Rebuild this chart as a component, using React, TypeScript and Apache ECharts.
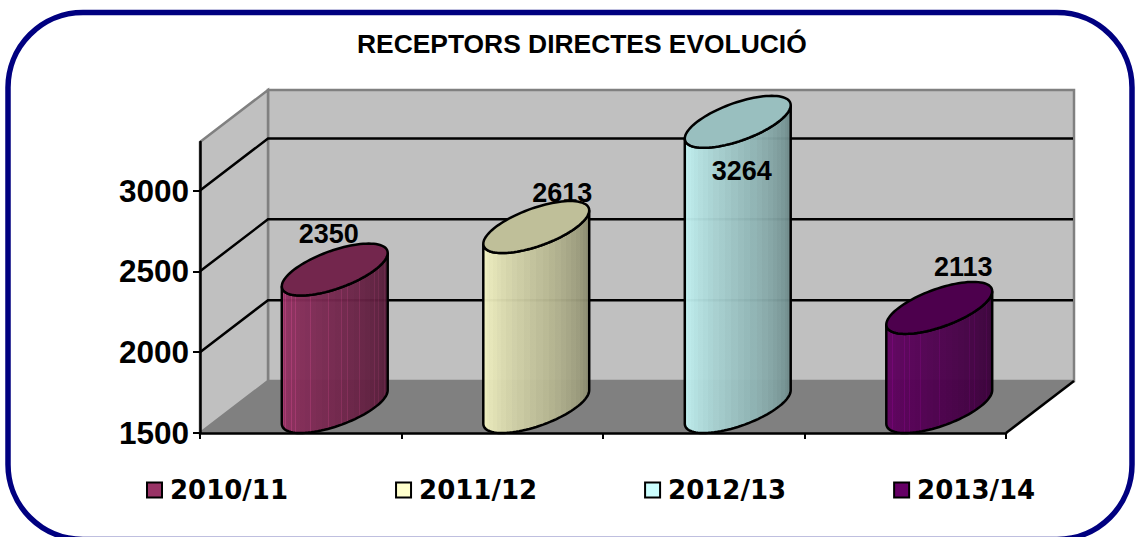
import React, { useEffect, useRef } from "react";
import * as echarts from "echarts";

const title = "RECEPTORS DIRECTES EVOLUCIÓ";
const seasons = ["2010/11", "2011/12", "2012/13", "2013/14"];
const receptors = [2350, 2613, 3264, 2113];
const baseColors = ["#993366", "#FFFFCC", "#CCFFFF", "#660066"];
const yTicks = [1500, 2000, 2500, 3000];

// 3D look: depth vector of the box and cylinder half axes (layout, not data)
const DEPTH_X = 68;
const DEPTH_Y = -52;
const HALF_W = 40.6;
const labelShift = [[-6, -36], [26, -34], [4, 49], [24, -41]];

function shade(hex: string, f: number, a = 1) {
  const n = parseInt(hex.slice(1), 16);
  const ch = (s: number) => Math.min(255, Math.round(((n >> s) & 255) * f));
  return `rgba(${ch(16)},${ch(8)},${ch(0)},${a})`;
}

function sideGradient(hex: string) {
  const N = 26;
  const stops: { offset: number; color: string }[] = [];
  const dark = hex === "#993366" || hex === "#660066";
  for (let i = 0; i < N; i++) {
    const u0 = (1 - Math.cos((Math.PI * i) / N)) / 2;
    const u1 = (1 - Math.cos((Math.PI * (i + 1)) / N)) / 2;
    const f = 0.98 - 0.48 * ((i + 0.5) / N) ** 1.1;
    const col = shade(hex, f, 0.96);
    const edge = dark ? shade(hex, f * 1.22, 0.96) : col;
    const w = Math.min(0.004, (u1 - u0) / 3);
    stops.push({ offset: u0, color: edge });
    stops.push({ offset: u0 + w, color: edge });
    stops.push({ offset: u0 + w, color: col });
    stops.push({ offset: u1, color: col });
  }
  return new echarts.graphic.LinearGradient(0, 0, 1, 0, stops);
}

function cylinderItem(seriesIndex: number) {
  return (params: any, api: any) => {
    const cat = api.value(0);
    const val = api.value(1);
    const hex = baseColors[seriesIndex];
    const base = api.coord([cat, 1500]);
    const top = api.coord([cat, val]);
    const cx = base[0] + DEPTH_X / 2;
    const cyB = base[1] + DEPTH_Y / 2;
    const cyT = top[1] + DEPTH_Y / 2;
    const pt = (t: number, cy: number) => [
      cx + HALF_W * Math.cos(t) + (DEPTH_X / 2) * Math.sin(t),
      cy + (DEPTH_Y / 2) * Math.sin(t),
    ];
    const t0 = Math.atan2(DEPTH_X / 2, HALF_W);
    const M = 48;
    const side: number[][] = [];
    for (let i = 0; i <= M; i++) side.push(pt(t0 + Math.PI + (Math.PI * i) / M, cyB));
    for (let i = 0; i <= M; i++) side.push(pt(t0 - (Math.PI * i) / M, cyT));
    const cap: number[][] = [];
    for (let i = 0; i < M * 2; i++) cap.push(pt((Math.PI * i) / M, cyT));
    const s = labelShift[seriesIndex];
    return {
      type: "group",
      children: [
        {
          type: "polygon",
          shape: { points: side },
          style: { fill: sideGradient(hex), stroke: "#000", lineWidth: 2.5 },
        },
        {
          type: "polygon",
          shape: { points: cap },
          style: { fill: shade(hex, 0.75), stroke: "#000", lineWidth: 2.5 },
        },
        {
          type: "text",
          x: cx + s[0],
          y: cyT + s[1],
          style: {
            text: String(val),
            fill: "#000",
            font: 'bold 27px "Liberation Sans"',
            align: "center",
            verticalAlign: "middle",
          },
        },
      ],
    };
  };
}

function wallsItem(params: any, api: any) {
  const { x, y, width, height } = params.coordSys;
  const r = x + width;
  const b = y + height;
  const dx = DEPTH_X;
  const dy = DEPTH_Y;
  const gray = "#808080";
  const kids: any[] = [
    {
      type: "polygon",
      shape: { points: [[x + dx, y + dy], [r + dx, y + dy], [r + dx, b + dy], [x + dx, b + dy]] },
      style: { fill: "#C0C0C0", stroke: gray, lineWidth: 2.5 },
    },
    {
      type: "polygon",
      shape: { points: [[x, y], [x + dx, y + dy], [x + dx, b + dy], [x, b]] },
      style: { fill: "#C0C0C0", stroke: gray, lineWidth: 2.5 },
    },
    {
      type: "polygon",
      shape: { points: [[x, b], [x + dx, b + dy], [r + dx, b + dy], [r, b]] },
      style: { fill: "#808080" },
    },
    {
      type: "line",
      shape: { x1: r, y1: b, x2: r + dx, y2: b + dy },
      style: { stroke: "#000", lineWidth: 2.5 },
    },
  ];
  yTicks.slice(1).forEach((t) => {
    const py = api.coord([0, t])[1];
    kids.push({
      type: "polyline",
      shape: { points: [[x, py], [x + dx, py + dy], [r + dx - 1, py + dy]] },
      style: { stroke: "#000", lineWidth: 2.5, fill: "none" },
    });
  });
  return { type: "group", children: kids };
}

export default function App() {
  const ref = useRef<HTMLDivElement>(null);
  useEffect(() => {
    document.body.style.margin = "0";
    const chart = echarts.init(ref.current!, undefined, { renderer: "svg" });
    chart.setOption({
      animation: false,
      backgroundColor: "#fff",
      title: {
        text: title,
        left: 352,
        top: 26,
        textStyle: { fontFamily: "Liberation Sans", fontWeight: "bold", fontSize: 26.4, color: "#000" },
      },
      graphic: [
        {
          type: "rect",
          z: -1,
          shape: { x: 8, y: 12.5, width: 1124, height: 527, r: 75 },
          style: { fill: "#fff", stroke: "#000080", lineWidth: 5.5 },
        },
      ],
      grid: { left: 200, right: 129, top: 142, bottom: 104 },
      xAxis: {
        type: "category",
        data: seasons,
        z: 1,
        axisLine: { lineStyle: { color: "#000", width: 2.5 } },
        axisTick: { show: true, length: 6, lineStyle: { color: "#000", width: 2 } },
        axisLabel: { show: false },
        splitLine: { show: false },
      },
      yAxis: {
        type: "value",
        min: 1500,
        max: 3300,
        interval: 500,
        z: 1,
        axisLine: { show: true, lineStyle: { color: "#000", width: 2.5 } },
        axisTick: { show: true, length: 7, customValues: yTicks, lineStyle: { color: "#000", width: 2 } },
        axisLabel: {
          margin: 11,
          color: "#000",
          fontFamily: "Liberation Sans",
          fontWeight: "bold",
          fontSize: 31.5,
          customValues: yTicks,
          formatter: (v: number) => String(v),
        },
        splitLine: { show: false },
      },
      legend: {
        left: 141,
        top: 472,
        selectedMode: false,
        data: seasons,
        icon: "rect",
        itemWidth: 15,
        itemHeight: 15,
        itemGap: 107,
        textStyle: {
          fontFamily: "DejaVu Sans",
          fontWeight: "bold",
          fontSize: 26,
          color: "#000",
          padding: [0, 0, 0, 3],
        },
        itemStyle: { borderColor: "#000", borderWidth: 2 },
      },
      series: [
        {
          type: "custom",
          name: "walls",
          z: 0,
          silent: true,
          clip: false,
          data: [[0, 1500]],
          renderItem: wallsItem,
        },
        ...seasons.map((s, i) => ({
          type: "custom",
          name: s,
          z: 2,
          silent: true,
          clip: false,
          itemStyle: { color: baseColors[i] },
          data: [[i, receptors[i]]],
          encode: { x: 0, y: 1 },
          renderItem: cylinderItem(i),
        })),
      ],
    });
    return () => chart.dispose();
  }, []);
  return <div ref={ref} style={{ width: 1135, height: 537 }} />;
}
